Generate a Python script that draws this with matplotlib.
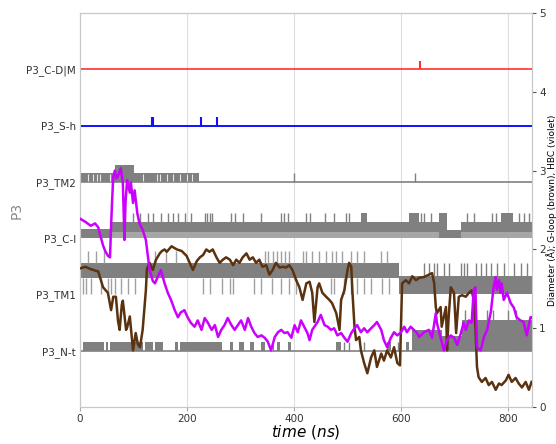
import matplotlib
matplotlib.use('Agg')
import matplotlib.pyplot as plt
import numpy as np

# rows of the left axis, bottom to top
rows = ['P3_N-t', 'P3_TM1', 'P3_C-l', 'P3_TM2', 'P3_S-h', 'P3_C-D|M']
STEP = 0.15   # one state level in left axis units

# red / blue rows: single spikes (time in ns)
cdm_spikes = [636]
sh_spikes = [134, 137, 227, 256]

# TM2: dense band (t0, t1, lo, hi), gaps, later spikes
tm2_band = [(0, 222, 0, 1), (65, 101, 1, 2)]
tm2_gaps = [15, 24, 32, 37, 56, 117, 143, 149, 162, 173, 186, 199, 209]
tm2_spikes = [399, 626]

# C-l
cl_band = [(0, 56, 0, 1.1), (56, 686, 0.75, 1.9), (686, 712, 0, 1.0),
           (712, 845, 0.75, 1.9), (525, 537, 1.9, 3), (615, 634, 1.9, 3),
           (671, 686, 0, 3), (787, 810, 1.9, 3)]
cl_flicker = [(56, 686, 0, 0.75), (712, 845, 0, 0.75)]
cl_up = [99, 112, 127, 136, 151, 164, 173, 183, 196, 207, 233, 238, 242, 246,
         283, 289, 304, 339, 376, 382, 388, 423, 429, 457, 475, 498, 503, 630,
         637, 643, 656, 723, 736, 770, 777, 820, 829, 839]

# TM1
tm1_band = [(0, 596, 2, 3.7), (596, 845, 0, 2.2)]
tm1_down = [6, 11, 20, 39, 52, 58, 65, 76, 89, 102, 229, 242, 265, 280, 285,
            326, 339, 358, 376, 391, 404, 469, 475, 494, 507, 518, 531, 544,
            565, 578]
tm1_up = [15, 30, 45, 140, 160, 180, 345, 352, 360, 368, 375, 383, 390, 416,
          423, 434, 447, 460, 471, 479, 490, 507, 518, 531, 563, 574]
tm1_up2 = [643, 652, 662, 667, 680, 690, 712, 717, 723, 740, 749, 758, 768,
           779, 792, 811, 824, 835]

# N-t
nt_band = [(5, 45, 0, 1), (48, 52, 0, 1), (56, 117, 0, 1), (121, 136, 0, 1),
           (140, 155, 0, 1), (177, 183, 0, 1), (186, 266, 0, 1), (280, 285, 0, 1),
           (298, 307, 0, 1), (317, 326, 0, 1), (339, 345, 0, 1), (360, 363, 0, 1),
           (369, 373, 0, 1), (388, 395, 0, 1), (479, 488, 0, 1), (574, 581, 0, 1),
           (609, 615, 0, 1), (621, 676, 0, 2.5), (676, 714, 0, 1.7), (714, 845, 0, 3.6)]
nt_spikes = [494, 503, 530, 595]
nt_up = [720, 735, 760, 772, 800, 815]

# G-loop (brown), right axis
gl_t = [0, 10, 20, 34, 43, 52, 58, 62, 67, 71, 74, 78, 80, 86, 88, 93, 99, 104, 108,
        112, 117, 123, 125, 130, 136, 142, 149, 153, 158, 162, 171, 181, 190, 199,
        205, 211, 218, 224, 230, 236, 242, 248, 255, 261, 267, 273, 280, 286, 292,
        298, 304, 311, 317, 323, 329, 335, 341, 348, 354, 360, 366, 373, 379, 385,
        391, 397, 404, 410, 416, 423, 429, 434, 438, 444, 447, 453, 460, 466, 471,
        479, 485, 488, 494, 500, 503, 507, 509, 513, 516, 522, 525, 531, 537, 544,
        550, 555, 563, 568, 574, 581, 587, 593, 598, 602, 609, 615, 621, 628, 634,
        643, 652, 658, 662, 665, 667, 674, 676, 684, 686, 689, 693, 699, 703, 708,
        714, 721, 727, 732, 736, 739, 742, 745, 751, 758, 764, 770, 777, 783, 788,
        796, 801, 807, 814, 820, 826, 833, 839, 844]
gl_v = [1.76, 1.78, 1.75, 1.72, 1.52, 1.45, 1.23, 1.4, 1.4, 1.09, 0.98, 1.3, 1.35,
        0.98, 1.01, 1.15, 0.72, 0.94, 0.8, 0.76, 0.98, 1.48, 1.75, 1.83, 1.74, 1.87,
        1.95, 1.98, 2.0, 1.97, 2.04, 2.0, 1.98, 1.92, 1.83, 1.74, 1.85, 1.9, 1.93,
        2.0, 1.97, 2.0, 1.9, 1.83, 1.87, 1.9, 1.87, 1.8, 1.87, 1.83, 1.9, 1.95,
        1.87, 1.9, 1.83, 1.87, 1.78, 1.8, 1.68, 1.74, 1.83, 1.77, 1.78, 1.77, 1.8,
        1.74, 1.61, 1.52, 1.36, 1.57, 1.59, 1.45, 1.08, 1.52, 1.57, 1.45, 1.4, 1.36,
        1.32, 1.19, 0.98, 1.36, 1.48, 1.74, 1.83, 1.78, 1.48, 1.02, 0.85, 0.89,
        0.72, 0.56, 0.43, 0.63, 0.72, 0.51, 0.68, 0.59, 0.72, 0.63, 0.76, 0.56,
        0.53, 1.57, 1.61, 1.57, 1.66, 1.61, 1.64, 1.65, 1.68, 1.7, 1.57, 1.27,
        1.19, 1.27, 1.02, 1.27, 0.72, 1.14, 1.52, 1.45, 0.94, 1.4, 1.42, 1.4, 1.45,
        1.48, 1.36, 1.02, 0.51, 0.38, 0.32, 0.37, 0.28, 0.32, 0.22, 0.3, 0.28,
        0.34, 0.41, 0.32, 0.37, 0.3, 0.25, 0.32, 0.22, 0.32]

# HBC (violet), right axis
hbc_t = [0, 10, 20, 28, 34, 37, 43, 47, 52, 56, 58, 60, 62, 65, 68, 72, 76, 80, 83,
         85, 88, 93, 95, 99, 102, 107, 111, 117, 123, 127, 130, 136, 140, 145, 151,
         158, 164, 170, 177, 183, 188, 195, 201, 207, 214, 220, 227, 233, 239, 246,
         252, 258, 264, 270, 276, 283, 289, 295, 301, 308, 314, 320, 326, 332, 339,
         345, 351, 357, 364, 370, 376, 382, 388, 395, 401, 407, 413, 419, 425, 429,
         434, 444, 450, 457, 463, 469, 475, 481, 488, 494, 500, 507, 513, 518, 525,
         531, 537, 544, 550, 555, 563, 568, 574, 581, 587, 593, 600, 606, 611, 618,
         624, 630, 634, 643, 652, 658, 665, 667, 674, 680, 686, 693, 699, 705, 712,
         717, 721, 727, 732, 736, 739, 742, 749, 755, 761, 768, 773, 777, 779, 783,
         786, 788, 792, 798, 805, 811, 816, 823, 829, 835, 842, 844]
hbc_v = [2.39, 2.35, 2.3, 2.33, 2.28, 2.2, 2.05, 1.98, 1.92, 1.9, 2.3, 2.63, 2.92,
         3.0, 2.9, 2.95, 3.03, 2.84, 2.12, 2.6, 2.88, 2.72, 2.85, 2.59, 2.75, 2.46,
         2.33, 2.25, 2.12, 1.9, 1.74, 1.6, 1.57, 1.65, 1.74, 1.57, 1.45, 1.36, 1.23,
         1.14, 1.2, 1.23, 1.14, 1.07, 1.02, 1.1, 0.98, 1.13, 1.07, 0.98, 1.04, 0.89,
         0.98, 1.04, 1.13, 1.04, 0.98, 1.04, 1.1, 0.98, 1.13, 1.02, 0.94, 0.89, 0.91,
         0.88, 0.83, 0.72, 0.89, 0.95, 0.98, 0.94, 0.95, 0.88, 1.04, 0.95, 1.1, 1.02,
         0.94, 0.85, 0.98, 1.08, 1.17, 1.04, 1.02, 0.98, 1.0, 0.91, 0.94, 0.88, 0.83,
         0.94, 1.0, 1.04, 0.95, 1.0, 0.95, 1.0, 1.04, 1.08, 0.98, 0.85, 0.76, 0.88,
         0.95, 0.91, 0.95, 1.02, 0.95, 1.02, 0.98, 0.94, 0.89, 0.95, 0.98, 0.88,
         1.19, 1.07, 0.88, 0.72, 0.85, 0.91, 0.88, 0.79, 0.94, 1.07, 0.98, 1.1, 1.07,
         1.49, 1.52, 0.76, 0.72, 0.89, 0.98, 1.21, 1.52, 1.65, 1.49, 1.61, 1.45,
         1.57, 1.36, 1.45, 1.32, 1.26, 1.14, 1.1, 1.08, 0.91, 1.14, 1.14]

T_END = 845
GRAY = '#808080'

fig = plt.figure(figsize=(5.56, 4.44), dpi=100)
ax = fig.add_axes([0.144, 0.083, 0.813, 0.888])


def draw_band(row, band, color=GRAY):
    for t0, t1, lo, hi in band:
        ax.fill_between([t0, t1], row + lo * STEP, row + hi * STEP,
                        color=color, lw=0, zorder=2)


def draw_spikes(row, times, lo, hi, color=GRAY, lw=1.0):
    ax.vlines(times, row + lo * STEP, row + hi * STEP, color=color, lw=lw, zorder=2)


# red and blue rows
ax.hlines(5, 0, T_END, color='#ff3030', lw=1.2, zorder=3)
draw_spikes(5, cdm_spikes, 0, 1, color='#ff3030', lw=1.5)
ax.hlines(4, 0, T_END, color='#1010ff', lw=1.4, zorder=3)
draw_spikes(4, sh_spikes, 0, 1, color='#1010ff', lw=1.5)

# TM2
ax.hlines(3, 0, T_END, color=GRAY, lw=1.2, zorder=2)
draw_band(3, tm2_band)
ax.vlines(tm2_gaps, 3 + 0.1 * STEP, 3 + 0.95 * STEP, color='#e8e8e8', lw=0.8, zorder=2)
draw_spikes(3, tm2_spikes, 0, 1)

# C-l
draw_band(2, cl_flicker, color='#a6a6a6')
draw_band(2, cl_band)
draw_spikes(2, cl_up, 1.9, 3)

# TM1
draw_band(1, tm1_band)
draw_spikes(1, tm1_down, 0, 2, color='#a0a0a0')
draw_spikes(1, tm1_up, 3.7, 5.2, color='#a0a0a0')
draw_spikes(1, tm1_up2, 2.2, 3.7)

# N-t
ax.hlines(0, 0, T_END, color=GRAY, lw=1.2, zorder=2)
draw_band(0, nt_band)
draw_spikes(0, nt_spikes, 0, 1)
draw_spikes(0, nt_up, 3.6, 4.8)

ax.set_xlim(0, T_END)
ax.set_ylim(-1, 6)
ax.set_yticks(range(len(rows)))
ax.set_yticklabels(rows, fontsize=7.5, color='#333333')
ax.set_xticks([0, 200, 400, 600, 800])
ax.tick_params(axis='x', labelsize=7.5, colors='#333333', length=3, color='#aaaaaa', pad=2)
ax.tick_params(axis='y', length=0, pad=3)
ax.grid(axis='x', color='#dedede', lw=0.8, zorder=0)
ax.set_axisbelow(True)
ax.set_xlabel(r'$time\ (ns)$', fontsize=11, labelpad=-1)
ax.set_ylabel('P3', fontsize=10, color='#888888', labelpad=2)
for s in ax.spines.values():
    s.set_color('#c8c8c8')

# right axis: diameters
ax2 = ax.twinx()
ax2.plot(gl_t, gl_v, color='#5a3210', lw=1.8, zorder=4)
ax2.plot(hbc_t, hbc_v, color='#cc00ff', lw=1.8, zorder=4)
ax2.set_ylim(0, 5)
ax2.set_xlim(0, T_END)
ax2.set_yticks([0, 1, 2, 3, 4, 5])
ax2.tick_params(axis='y', labelsize=7.5, colors='#333333', length=3, color='#555555', pad=2)
ax2.set_ylabel('Diameter (Å); G-loop (brown), HBC (violet)', fontsize=6.5, labelpad=0)
for s in ax2.spines.values():
    s.set_color('#c8c8c8')

fig.savefig('out.png', dpi=100)
